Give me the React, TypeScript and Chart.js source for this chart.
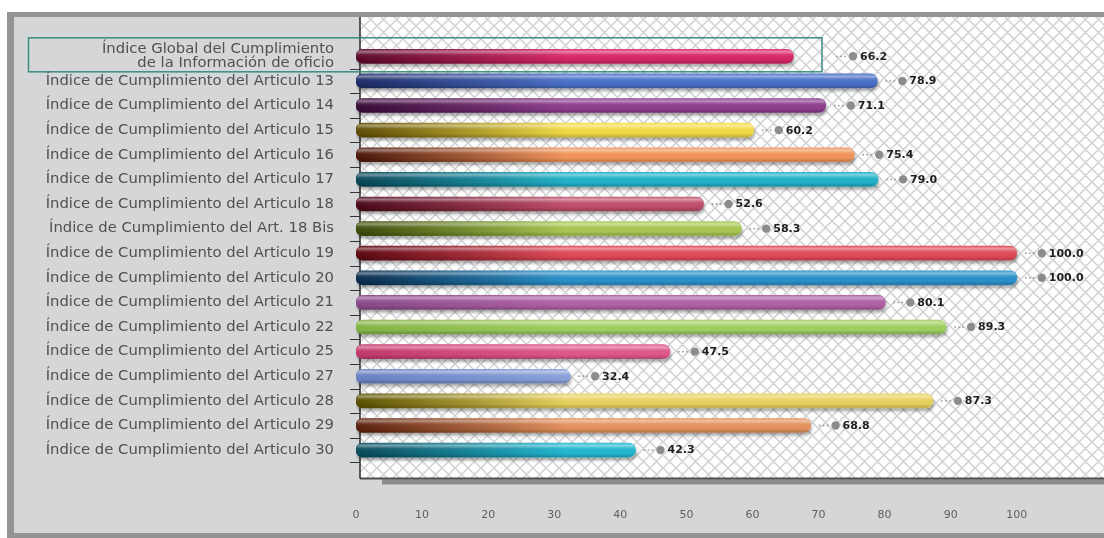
import React, { useEffect, useRef } from 'react';
import { Chart, registerables } from 'chart.js';

Chart.register(...registerables);

// Row labels (top to bottom)
const categories: (string | string[])[] = [
  ['Índice Global del Cumplimiento', 'de la Información de oficio'],
  'Índice de Cumplimiento del Articulo 13',
  'Índice de Cumplimiento del Articulo 14',
  'Índice de Cumplimiento del Articulo 15',
  'Índice de Cumplimiento del Articulo 16',
  'Índice de Cumplimiento del Articulo 17',
  'Índice de Cumplimiento del Articulo 18',
  'Índice de Cumplimiento del Art. 18 Bis',
  'Índice de Cumplimiento del Articulo 19',
  'Índice de Cumplimiento del Articulo 20',
  'Índice de Cumplimiento del Articulo 21',
  'Índice de Cumplimiento del Articulo 22',
  'Índice de Cumplimiento del Articulo 25',
  'Índice de Cumplimiento del Articulo 27',
  'Índice de Cumplimiento del Articulo 28',
  'Índice de Cumplimiento del Articulo 29',
  'Índice de Cumplimiento del Articulo 30',
];

// Compliance index per row
const values: number[] = [
  66.2, 78.9, 71.1, 60.2, 75.4, 79.0, 52.6, 58.3, 100.0, 100.0, 80.1, 89.3, 47.5, 32.4, 87.3, 68.8, 42.3,
];

// Axis ticks shown along the bottom
const xTicks: number[] = [0, 10, 20, 30, 40, 50, 60, 70, 80, 90, 100];

// Bar shading: [dark start, main colour]
const barShades: [string, string][] = [
  ['#5a0a2a', '#d8286a'],
  ['#1e2c66', '#4a70c8'],
  ['#3a0c38', '#8e3e8e'],
  ['#5e4c04', '#f2dc48'],
  ['#4a160a', '#f2955a'],
  ['#0a4656', '#22b2c8'],
  ['#4a0818', '#c04e6c'],
  ['#3c4a0a', '#a8c852'],
  ['#5c0812', '#e04a58'],
  ['#0a2c4c', '#2a92cc'],
  ['#8a4a8a', '#b062a6'],
  ['#84b444', '#a0d060'],
  ['#c43a6c', '#e0588a'],
  ['#6a82c4', '#8aa2da'],
  ['#5a5000', '#e8d25e'],
  ['#5a200c', '#e4925e'],
  ['#0a4a5a', '#22b8d2'],
];

const W = 1104;
const H = 538;
const LABEL_FONT = '"DejaVu Sans", sans-serif';
const BOX_RIGHT = 822;

function makeHatch(): CanvasPattern | string {
  const s = 13;
  const c = document.createElement('canvas');
  c.width = s;
  c.height = s;
  const p = c.getContext('2d');
  if (!p) return '#ffffff';
  p.fillStyle = '#ffffff';
  p.fillRect(0, 0, s, s);
  p.strokeStyle = '#d0d1d3';
  p.lineWidth = 1.5;
  p.beginPath();
  for (const dx of [-s, 0, s]) {
    p.moveTo(dx, 0);
    p.lineTo(dx + s, s);
    p.moveTo(dx + s, 0);
    p.lineTo(dx, s);
  }
  p.stroke();
  const pat = p.createPattern(c, 'repeat');
  return pat || '#ffffff';
}

export default function App() {
  const canvasRef = useRef<HTMLCanvasElement | null>(null);

  useEffect(() => {
    const canvas = canvasRef.current;
    if (!canvas) return;
    const hatch = makeHatch();

    // Panel, hatched plot area, axis lines, label box
    const framePlugin = {
      id: 'frame',
      beforeDraw(chart: any) {
        const { ctx, chartArea } = chart;
        const yScale = chart.scales.y;
        const px = chartArea.left + 4;
        const plotTop = 17;
        const plotBottom = chartArea.bottom + 16;
        ctx.save();
        ctx.fillStyle = '#ffffff';
        ctx.fillRect(0, 0, W, H);
        // outer panel
        ctx.fillStyle = '#929496';
        ctx.fillRect(7, 12, W - 7, H - 12);
        ctx.fillStyle = '#d4d6d8';
        ctx.fillRect(14, 17, W - 14, H - 17 - 5);
        // hatched plot area
        ctx.fillStyle = hatch;
        ctx.fillRect(px, plotTop, W - px, plotBottom - plotTop);
        // drop shadow under the plot
        ctx.fillStyle = '#8a8b8d';
        ctx.fillRect(px + 22, plotBottom + 1, W - px - 22, 5);
        // bottom and left borders
        ctx.strokeStyle = '#4e4e50';
        ctx.lineWidth = 2;
        ctx.beginPath();
        ctx.moveTo(px, plotBottom);
        ctx.lineTo(W, plotBottom);
        ctx.stroke();
        ctx.strokeStyle = '#2a2a2a';
        ctx.lineWidth = 1.5;
        ctx.beginPath();
        ctx.moveTo(px, plotTop);
        ctx.lineTo(px, plotBottom);
        ctx.stroke();
        // category tick marks between rows
        const n = categories.length;
        const step = (chartArea.bottom - chartArea.top) / n;
        ctx.strokeStyle = '#333333';
        ctx.lineWidth = 1;
        ctx.beginPath();
        for (let i = 0; i < n; i++) {
          const y = Math.round(yScale.getPixelForValue(i) + step / 2) + 0.5;
          ctx.moveTo(px - 10, y);
          ctx.lineTo(px, y);
        }
        ctx.stroke();
        // box around the global index label
        const y0 = yScale.getPixelForValue(0);
        ctx.strokeStyle = '#3c8c80';
        ctx.lineWidth = 1.5;
        ctx.strokeRect(28.5, y0 - 18.5, BOX_RIGHT - 28.5, 34);
        ctx.restore();
      },
      beforeDatasetsDraw(chart: any) {
        const ctx = chart.ctx;
        ctx.save();
        ctx.shadowColor = 'rgba(0,0,0,0.32)';
        ctx.shadowBlur = 3;
        ctx.shadowOffsetX = 1;
        ctx.shadowOffsetY = 3;
      },
      afterDatasetsDraw(chart: any) {
        const ctx = chart.ctx;
        ctx.restore();
        const meta = chart.getDatasetMeta(0);
        ctx.save();
        meta.data.forEach((el: any, i: number) => {
          const { x, y, base, height } = el.getProps(['x', 'y', 'base', 'height'], true);
          const top = y - height / 2;
          // cylinder highlight
          const g = ctx.createLinearGradient(0, top, 0, top + height);
          g.addColorStop(0, 'rgba(255,255,255,0.10)');
          g.addColorStop(0.18, 'rgba(255,255,255,0.42)');
          g.addColorStop(0.38, 'rgba(255,255,255,0.08)');
          g.addColorStop(0.7, 'rgba(0,0,0,0)');
          g.addColorStop(1, 'rgba(0,0,0,0.22)');
          ctx.fillStyle = g;
          ctx.beginPath();
          ctx.roundRect(base, top, x - base, height, height / 2);
          ctx.fill();

          // value marker: leader dots, bullet, number
          const ex = i === 0 ? Math.max(x, BOX_RIGHT + 6) : x;
          ctx.fillStyle = '#9a9a9a';
          for (let k = 0; k < 3; k++) {
            ctx.beginPath();
            ctx.arc(ex + 9 + k * 4, y, 0.9, 0, Math.PI * 2);
            ctx.fill();
          }
          ctx.fillStyle = '#8c8c8c';
          ctx.beginPath();
          ctx.arc(ex + 25, y, 4.2, 0, Math.PI * 2);
          ctx.fill();
          ctx.fillStyle = '#1e1e1e';
          ctx.font = 'bold 11px "DejaVu Sans", sans-serif';
          ctx.textAlign = 'left';
          ctx.textBaseline = 'middle';
          ctx.fillText(values[i].toFixed(1), ex + 32, y + 0.5);
        });
        ctx.restore();
      },
    };

    const chart = new Chart(canvas, {
      type: 'bar',
      data: {
        labels: categories,
        datasets: [
          {
            data: values,
            barThickness: 14,
            borderRadius: 7,
            borderSkipped: false,
            backgroundColor: (c: any) => {
              const shade = barShades[c.dataIndex] || barShades[0];
              const area = c.chart.chartArea;
              if (!area) return shade[1];
              const g = c.chart.ctx.createLinearGradient(area.left, 0, area.left + 210, 0);
              g.addColorStop(0, shade[0]);
              g.addColorStop(1, shade[1]);
              return g;
            },
          },
        ],
      },
      options: {
        indexAxis: 'y',
        responsive: false,
        animation: false,
        devicePixelRatio: 1,
        layout: { padding: { top: 44, bottom: 0, left: 0, right: 0 } },
        plugins: {
          legend: { display: false },
          tooltip: { enabled: false },
        },
        scales: {
          x: {
            type: 'linear',
            min: 0,
            max: 113.2,
            grid: { display: false, drawTicks: false },
            border: { display: false },
            afterBuildTicks: (scale: any) => {
              scale.ticks = xTicks.map((v) => ({ value: v }));
            },
            afterFit: (scale: any) => {
              scale.height = H - 462.4;
            },
            ticks: {
              padding: 46,
              color: '#5e5e5e',
              font: { family: LABEL_FONT, size: 11 },
              maxRotation: 0,
              autoSkip: false,
            },
          },
          y: {
            type: 'category',
            grid: { display: false, drawTicks: false },
            border: { display: false },
            afterFit: (scale: any) => {
              scale.width = 356;
            },
            ticks: {
              padding: 22,
              color: '#505050',
              autoSkip: false,
              font: { family: LABEL_FONT, size: 14.8, lineHeight: 0.9 },
            },
          },
        },
      },
      plugins: [framePlugin],
    } as any);

    return () => {
      chart.destroy();
    };
  }, []);

  return (
    <div style={{ position: 'fixed', left: 0, top: 0, width: W, height: H }}>
      <canvas ref={canvasRef} width={W} height={H} style={{ display: 'block' }} />
    </div>
  );
}
